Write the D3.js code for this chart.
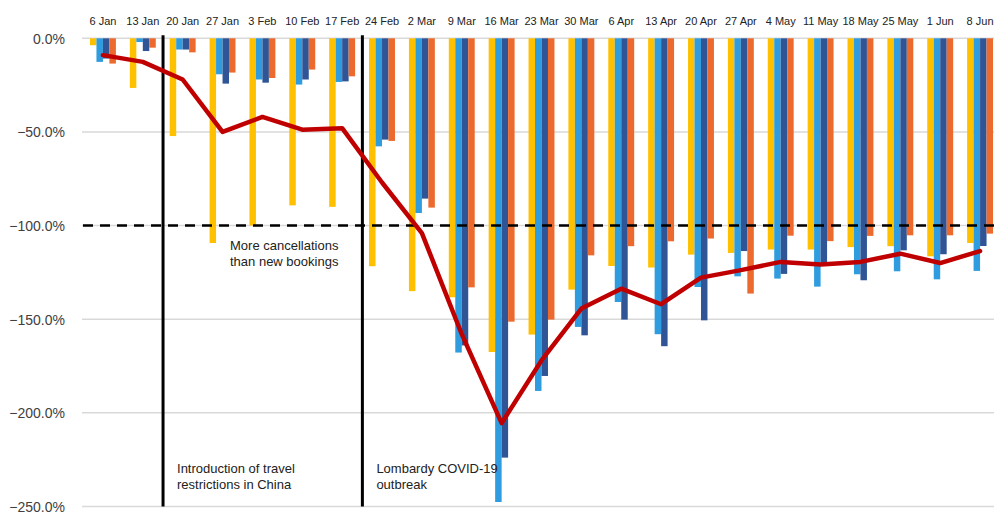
<!DOCTYPE html>
<html>
<head>
<meta charset="utf-8">
<script src="https://cdn.jsdelivr.net/npm/d3@7/dist/d3.min.js"></script>
<style>
  html, body { margin: 0; padding: 0; background: #fff; }
  svg { display: block; font-family: "Liberation Sans", Arial, sans-serif; }
</style>
</head>
<body>
<svg id="chart" width="994" height="512"></svg>
<script>
// Week-commencing labels
const weeks = ["6 Jan","13 Jan","20 Jan","27 Jan","3 Feb","10 Feb","17 Feb","24 Feb","2 Mar","9 Mar",
  "16 Mar","23 Mar","30 Mar","6 Apr","13 Apr","20 Apr","27 Apr","4 May","11 May","18 May","25 May","1 Jun","8 Jun"];

// Year-on-year change in net bookings (%), four bar series
const seriesYellow = [-3.7, -26.5, -52.2, -109.3, -100, -89.2, -90, -121.7, -135, -138.3, -167.5, -158.2,
  -134.2, -121.6, -122.4, -115.5, -114.6, -112.8, -112.8, -111.5, -111, -116.4, -109.3];
const seriesLightBlue = [-12.6, -2, -6, -19.2, -22, -24.7, -23.3, -57.7, -93.3, -167.8, -247.6, -188.3,
  -154.1, -140.8, -158, -132.8, -127.1, -128.3, -132.6, -126, -124.4, -128.7, -124.2];
const seriesDarkBlue = [-10.8, -6.8, -6, -24.2, -23.7, -22, -23, -54.1, -85.6, -164, -223.9, -180.3,
  -158.6, -150.2, -164.4, -150.6, -113.6, -125.8, -120, -129.2, -113.2, -115.3, -110.9];
const seriesOrange = [-13.5, -5, -7.5, -18.3, -21.2, -16.7, -20.3, -54.8, -90.4, -133, -151.3, -150.2,
  -115.9, -111, -108.4, -106.9, -136.3, -105.4, -108.3, -105.5, -105.2, -105.2, -104.3];

// Overall average (line)
const overall = [-9, -12.6, -22, -50, -42, -48.8, -48, -77, -104, -158, -205.5, -172,
  -144.3, -133.7, -142, -127.8, -123.8, -119.4, -120.8, -119.4, -115, -120, -113.6];

const yTicks = [0, -50, -100, -150, -200, -250];

const seriesKeys = ["yellow", "lightBlue", "darkBlue", "orange"];
const seriesColors = { yellow: "#FFC000", lightBlue: "#2E9CDE", darkBlue: "#2F5597", orange: "#EC6A2E" };
const seriesValues = { yellow: seriesYellow, lightBlue: seriesLightBlue, darkBlue: seriesDarkBlue, orange: seriesOrange };

const events = [
  { after: "13 Jan", lines: ["Introduction of travel", "restrictions in China"] },
  { after: "17 Feb", lines: ["Lombardy COVID-19", "outbreak"] }
];

const svg = d3.select("#chart");
const plotLeft = 83, plotRight = 1000, plotTop = 38.3, plotBottom = 506.5;

const x0 = d3.scaleBand().domain(weeks).range([plotLeft, plotRight]).paddingInner(0.35).paddingOuter(0.175);
const x1 = d3.scaleBand().domain(seriesKeys).range([0, x0.bandwidth()]);
const y = d3.scaleLinear().domain([0, -250]).range([plotTop, plotBottom]);

// Gridlines
svg.append("g").selectAll("line").data(yTicks).join("line")
  .attr("x1", plotLeft - 1).attr("x2", 994)
  .attr("y1", d => y(d)).attr("y2", d => y(d))
  .attr("stroke", "#D9D9D9").attr("stroke-width", 1.5);

// Y axis labels
const yAxis = d3.axisLeft(y).tickValues(yTicks).tickFormat(d => d3.format(".1f")(d) + "%").tickSize(0).tickPadding(0);
const yg = svg.append("g").attr("transform", "translate(65,0)").call(yAxis);
yg.select(".domain").remove();
yg.selectAll("text").attr("font-size", 14).attr("fill", "#404040")
  .attr("font-family", "'Liberation Sans', Arial, sans-serif").attr("dy", "0.35em");

// X axis labels along the top
const xAxis = d3.axisTop(x0).tickSize(0).tickPadding(0);
const xg = svg.append("g").attr("transform", "translate(0,25)").call(xAxis);
xg.select(".domain").remove();
xg.selectAll("text").attr("font-size", 11).attr("fill", "#222")
  .attr("font-family", "'Liberation Sans', Arial, sans-serif").attr("dy", 0);

// Bars
const groups = svg.append("g").selectAll("g").data(weeks).join("g")
  .attr("transform", d => `translate(${x0(d)},0)`);
groups.selectAll("rect")
  .data((d, i) => seriesKeys.map(k => ({ key: k, value: seriesValues[k][i] })))
  .join("rect")
  .attr("x", d => x1(d.key))
  .attr("width", x1.bandwidth())
  .attr("y", y(0))
  .attr("height", d => y(d.value) - y(0))
  .attr("fill", d => seriesColors[d.key]);

// -100% threshold
svg.append("line")
  .attr("x1", plotLeft).attr("x2", 994)
  .attr("y1", y(-100)).attr("y2", y(-100))
  .attr("stroke", "#000").attr("stroke-width", 2.5).attr("stroke-dasharray", "10,7");

svg.append("text").attr("y", 250).attr("font-size", 13).attr("fill", "#222")
  .selectAll("tspan").data(["More cancellations", "than new bookings"]).join("tspan")
  .attr("x", 230).attr("dy", (d, i) => i ? 15.5 : 0).text(d => d);

// Event markers
events.forEach(ev => {
  const ex = x0(ev.after) + x0.step() - x0.step() * 0.175 + 0.3;
  svg.append("line").attr("x1", ex).attr("x2", ex).attr("y1", plotTop - 3).attr("y2", plotBottom)
    .attr("stroke", "#000").attr("stroke-width", 3);
  svg.append("text").attr("font-size", 13).attr("fill", "#222").attr("y", 473)
    .selectAll("tspan").data(ev.lines).join("tspan")
    .attr("x", ex + 14).attr("dy", (d, i) => i ? 16 : 0).text(d => d);
});

// Overall line
const line = d3.line()
  .x((d, i) => x0(weeks[i]) + x0.bandwidth() / 2)
  .y(d => y(d));
svg.append("path").datum(overall)
  .attr("d", line)
  .attr("fill", "none").attr("stroke", "#C00000").attr("stroke-width", 4.5)
  .attr("stroke-linejoin", "round").attr("stroke-linecap", "round");
</script>
</body>
</html>
